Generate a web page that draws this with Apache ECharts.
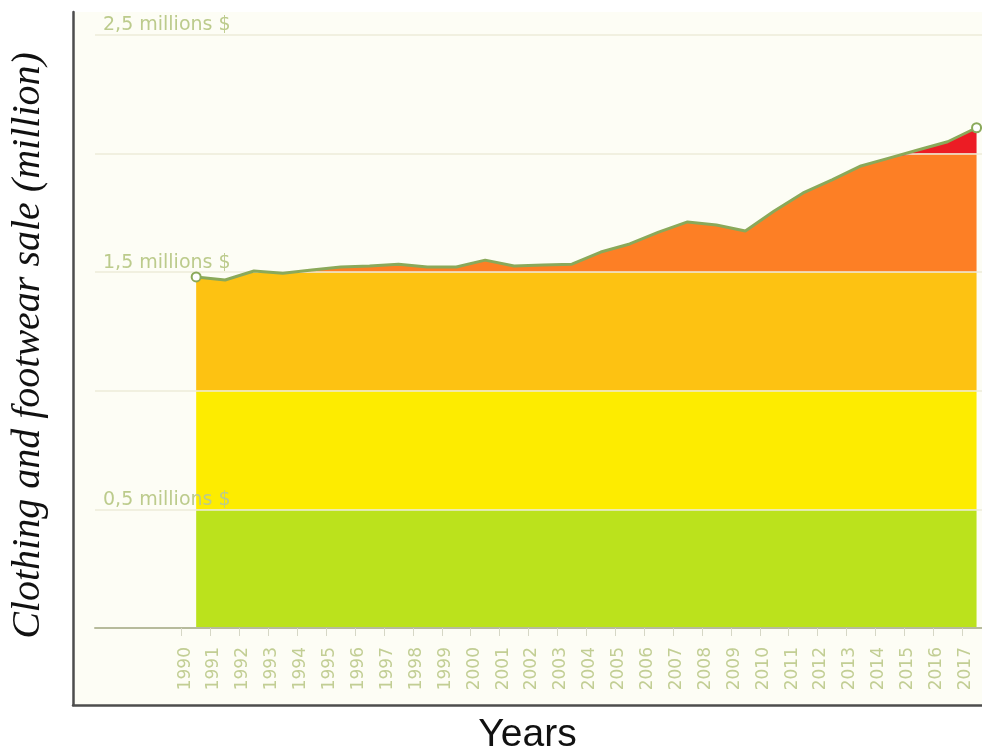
<!DOCTYPE html>
<html>
<head>
<meta charset="utf-8">
<title>Clothing and footwear sale</title>
<script src="https://cdn.jsdelivr.net/npm/echarts@6/dist/echarts.min.js"></script>
<style>
  html, body { margin: 0; padding: 0; background: #ffffff; }
  #chart { width: 982px; height: 749px; }
</style>
</head>
<body>
<div id="chart"></div>
<script>
// years on the x axis
const years = ['1990', '1991', '1992', '1993', '1994', '1995', '1996', '1997', '1998', '1999',
  '2000', '2001', '2002', '2003', '2004', '2005', '2006', '2007', '2008', '2009',
  '2010', '2011', '2012', '2013', '2014', '2015', '2016', '2017'];
// sales in millions $
const sales = [1.48, 1.467, 1.505, 1.496, 1.509, 1.522, 1.526, 1.534, 1.522, 1.522,
  1.551, 1.526, 1.53, 1.534, 1.585, 1.619, 1.669, 1.712, 1.699, 1.674,
  1.758, 1.834, 1.889, 1.948, 1.982, 2.016, 2.05, 2.109];
// colour bands by value
const bandEdges = [0, 0.5, 1.0, 1.5, 2.0, 2.5];
const bandColors = ['#bbe21c', '#fdec00', '#fdc212', '#fd7f25', '#ec1c24'];
// y tick labels, one for each 0.5 step
const yTickLabels = ['', '0,5 millions $', '', '1,5 millions $', '', '2,5 millions $'];
// empty slots before 1990
const leadSlots = 3;

const chart = echarts.init(document.getElementById('chart'));

const pad = new Array(leadSlots).fill('-');
const cats = new Array(leadSlots).fill('').concat(years);

// one stacked area per band: the part of the value that falls in the band
const bandSeries = bandColors.map((color, i) => {
  const lo = bandEdges[i], hi = bandEdges[i + 1];
  return {
    type: 'line',
    stack: 'sales',
    z: 2,
    symbol: 'none',
    silent: true,
    lineStyle: { width: 0 },
    areaStyle: { color: color, opacity: 1 },
    data: pad.concat(sales.map(v => Math.max(0, Math.min(v, hi) - lo)))
  };
});

const lineData = pad.concat(sales.map((v, i) => {
  if (i === 0 || i === sales.length - 1) {
    return { value: v, symbol: 'circle', symbolSize: 9 };
  }
  return { value: v, symbol: 'none' };
}));

chart.setOption({
  backgroundColor: '#ffffff',
  animation: false,
  grid: [
    { left: 95, width: 896, top: 35, bottom: 121, outerBoundsMode: 'none' },
    { left: 73, right: 0, top: 12, bottom: 44, outerBoundsMode: 'none',
      show: true, backgroundColor: '#fdfdf5', borderWidth: 0 }
  ],
  xAxis: [
    {
      gridIndex: 0,
      type: 'category',
      data: cats,
      boundaryGap: true,
      z: 3,
      axisLine: { lineStyle: { color: '#b7bb9c', width: 2 } },
      axisTick: {
        show: true,
        length: 8,
        interval: (index) => index >= leadSlots,
        lineStyle: { color: '#d6d7c6' }
      },
      axisLabel: {
        interval: 0,
        rotate: 90,
        margin: 19,
        verticalAlign: 'bottom',
        lineHeight: 22,
        color: '#c2ce94',
        fontSize: 17,
        fontFamily: 'DejaVu Sans'
      },
      splitLine: { show: false }
    },
    {
      gridIndex: 1,
      type: 'value',
      min: 0,
      max: 1,
      axisLine: { show: true, onZero: false, lineStyle: { color: '#4d4d4d', width: 2.5 } },
      axisTick: { show: false },
      axisLabel: { show: false },
      splitLine: { show: false },
      name: 'Years',
      nameLocation: 'middle',
      nameGap: 11,
      nameTextStyle: { fontSize: 39, color: '#111111', fontFamily: 'Liberation Sans' }
    }
  ],
  yAxis: [
    {
      gridIndex: 0,
      type: 'value',
      min: 0,
      max: 2.5,
      interval: 0.5,
      z: 3,
      axisLine: { show: false },
      axisTick: { show: false },
      axisLabel: {
        inside: true,
        margin: 8,
        verticalAlign: 'bottom',
        color: '#bccb8c',
        fontSize: 19,
        fontFamily: 'DejaVu Sans',
        formatter: (val) => yTickLabels[Math.round(val / 0.5)]
      },
      splitLine: { lineStyle: { color: '#ecebd8', width: 1.5 } }
    },
    {
      gridIndex: 1,
      type: 'value',
      min: 0,
      max: 1,
      axisLine: { show: true, onZero: false, lineStyle: { color: '#4d4d4d', width: 2.5 } },
      axisTick: { show: false },
      axisLabel: { show: false },
      splitLine: { show: false },
      name: 'Clothing and footwear sale (million)',
      nameLocation: 'middle',
      nameRotate: 90,
      nameGap: 25,
      nameTextStyle: { fontSize: 40, fontStyle: 'italic', color: '#111111',
        fontFamily: 'Liberation Serif', padding: [0, 0, 0, 26] }
    }
  ],
  series: bandSeries.concat([{
    type: 'line',
    z: 4,
    silent: true,
    data: lineData,
    lineStyle: { color: '#8aa95a', width: 3 },
    itemStyle: { color: '#ffffff', borderColor: '#8aa95a', borderWidth: 2 }
  }])
});
</script>
</body>
</html>
